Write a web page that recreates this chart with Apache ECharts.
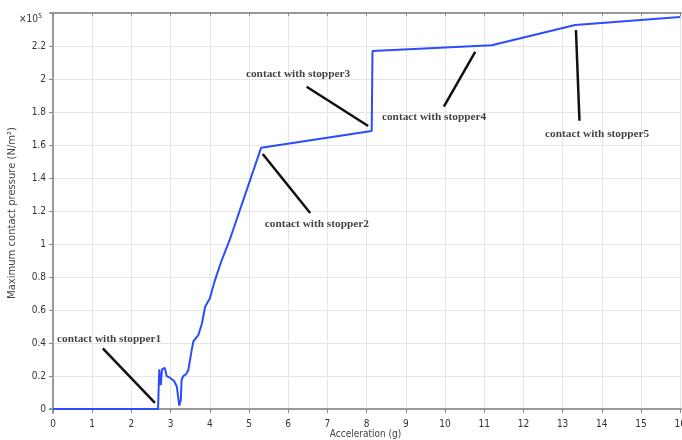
<!DOCTYPE html>
<html>
<head>
<meta charset="utf-8">
<script src="https://cdn.jsdelivr.net/npm/echarts@6/dist/echarts.min.js"></script>
<style>html,body{margin:0;padding:0;background:#fff}#c{width:682px;height:440px}</style>
</head>
<body>
<div id="c"></div>
<script>
// Acceleration (g)
const accel = [0, 2.68, 2.71, 2.75, 2.78, 2.85, 2.90, 2.98, 3.09, 3.16, 3.22, 3.26, 3.28, 3.32, 3.39, 3.45, 3.54, 3.58, 3.71, 3.80, 3.88, 4.0, 4.13, 4.30, 4.50, 5.31, 8.13, 8.15, 11.19, 13.32, 16];
// Maximum contact pressure (x10^5 N/m^2)
const pressure = [0, 0, 0.24, 0.145, 0.24, 0.25, 0.2, 0.19, 0.17, 0.135, 0.02, 0.055, 0.175, 0.2, 0.21, 0.235, 0.36, 0.41, 0.45, 0.52, 0.62, 0.67, 0.78, 0.90, 1.02, 1.584, 1.685, 2.17, 2.205, 2.327, 2.376];
const xTicks = [0,1,2,3,4,5,6,7,8,9,10,11,12,13,14,15,16];
const yTicks = [0,0.2,0.4,0.6,0.8,1,1.2,1.4,1.6,1.8,2,2.2];
// annotations (data coordinates)
const annotLabels = ['contact with stopper1','contact with stopper2','contact with stopper3','contact with stopper4','contact with stopper5'];
const annotTextPos = [[1.43,0.424],[6.73,1.121],[6.25,2.03],[9.72,1.77],[13.88,1.667]];
const annotLineFrom = [[1.27,0.368],[5.35,1.545],[6.47,1.953],[10.77,2.165],[13.34,2.297]];
const annotLineTo = [[2.60,0.038],[6.56,1.188],[8.04,1.715],[9.97,1.832],[13.43,1.747]];

const chart = echarts.init(document.getElementById('c'), null, {renderer:'canvas'});
const narrow = "'Liberation Sans Narrow', 'DejaVu Sans Condensed', sans-serif";
const tickFont = {color:'#333', fontSize:10, fontFamily:narrow};
chart.setOption({
  animation:false,
  backgroundColor:'#fff',
  title:{
    text:'×10{s|5}', left:19, top:13, padding:0,
    textStyle:{color:'#333', fontSize:10, fontWeight:'normal', fontFamily:narrow, rich:{s:{fontSize:7, verticalAlign:'top', padding:[0,0,6,0], color:'#333', fontFamily:narrow}}}
  },
  grid:{left:50, right:1, top:13, bottom:27, containLabel:false, outerBoundsMode:'none'},
  xAxis:[{
    type:'value', min:-0.077, max:16.02,
    name:'Acceleration (g)', nameLocation:'middle', nameGap:16, nameMoveOverlap:false,
    nameTextStyle:{color:'#444', fontSize:10, fontFamily:narrow},
    axisLine:{show:true, lineStyle:{color:'#999', width:2}},
    axisTick:{show:true, customValues:xTicks, length:4, lineStyle:{color:'#888'}},
    axisLabel:{customValues:xTicks, margin:6, hideOverlap:false, ...tickFont},
    splitLine:{show:true, lineStyle:{color:'#e6e6e6', width:1}}
  },{
    type:'value', position:'top', min:-0.077, max:16.02,
    axisLine:{show:true, lineStyle:{color:'#999', width:2}},
    axisTick:{show:true, inside:true, customValues:xTicks, length:3, lineStyle:{color:'#888'}},
    axisLabel:{show:false}, splitLine:{show:false}
  }],
  yAxis:[{
    type:'value', min:-0.024, max:2.4,
    name:'Maximum contact pressure (N/m²)', nameLocation:'middle', nameGap:33, nameMoveOverlap:false,
    nameTextStyle:{color:'#444', fontSize:10, fontFamily:'DejaVu Sans'},
    axisLine:{show:true, lineStyle:{color:'#999', width:2}},
    axisTick:{show:true, customValues:yTicks, length:4, lineStyle:{color:'#888'}},
    axisLabel:{customValues:yTicks, margin:4, ...tickFont},
    splitLine:{show:true, lineStyle:{color:'#e6e6e6', width:1}}
  }],
  series:[{
    type:'line', name:'pressure',
    data: accel.map((x,i)=>[x, pressure[i]]),
    showSymbol:false, symbol:'none',
    lineStyle:{color:'#2b4cff', width:2},
    z:3
  },{
    type:'lines', coordinateSystem:'cartesian2d',
    data: annotLineFrom.map((p,i)=>({coords:[p, annotLineTo[i]]})),
    lineStyle:{color:'#111', width:2.5, opacity:1},
    symbol:'none', z:4
  },{
    type:'scatter',
    data: annotTextPos.map((p,i)=>({value:[p[0],p[1]], name:annotLabels[i]})),
    symbolSize:1, itemStyle:{color:'rgba(0,0,0,0)'},
    label:{show:true, position:'inside', formatter:'{b}', color:'#111', fontSize:11.3, fontWeight:'bold', fontFamily:'Liberation Serif'},
    z:5
  }]
});
</script>
</body>
</html>
